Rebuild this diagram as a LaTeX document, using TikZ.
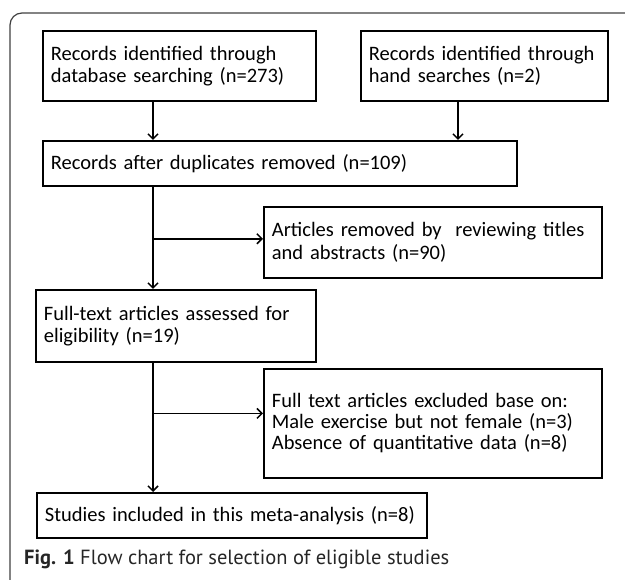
\documentclass[tikz,border=0pt]{standalone}
\usepackage{fontspec}
\setmainfont{Carlito}
\newfontfamily\capfont{PT Sans}
\usetikzlibrary{arrows.meta,calc}
\begin{document}
\begin{tikzpicture}[x=1pt,y=-1pt,
  box/.style={draw=black, line width=1.8pt, rectangle, anchor=north west,
    inner xsep=8pt, inner ysep=0pt, align=left,
    font=\fontsize{20.5}{22.5}\selectfont},
  arr/.style={line width=1.5pt, -{Straight Barb[length=5pt,width=10pt,line width=1.5pt]}},
  frame/.style={line width=1.2pt, draw=black!75, rounded corners=12pt}
]
\useasboundingbox (0,0) rectangle (625,580);
\draw[frame] (10,580) -- (10,13) -- (625,13);

\node[box, text width=257pt, minimum height=70pt] (b1) at (42,30)
  {Records identified through\\database searching (n=273)};
\node[box, text width=231pt, minimum height=70pt] (b2) at (360,30)
  {Records identified through\\hand searches (n=2)};
\node[box, text width=458pt, minimum height=45pt] (b3) at (42,140)
  {Records after duplicates removed (n=109)};
\node[box, text width=322pt, minimum height=71pt] (b4) at (263,206)
  {Articles removed by \ reviewing titles\\and abstracts (n=90)};
\node[box, text width=264pt, minimum height=72pt] (b5) at (35,289)
  {Full-text articles assessed for\\eligibility (n=19)};
\node[box, text width=322pt, minimum height=109pt, font=\fontsize{20.5}{21}\selectfont] (b6) at (263,368)
  {Full text articles excluded base on:\\Male exercise but not female (n=3)\\Absence of quantitative data (n=8)};
\node[box, text width=374pt, minimum height=45pt] (b7) at (36,492)
  {Studies included in this meta-analysis (n=8)};

\coordinate (v) at (153,0);
\coordinate (v2) at (458,0);
\coordinate (t4) at ($(b4.north west)!0.45!(b4.south west)$);
\coordinate (t6) at ($(b6.north west)!0.41!(b6.south west)$);

\draw[arr] (b1.south -| v) -- (b3.north -| v);
\draw[arr] (b2.south -| v2) -- (b3.north -| v2);
\draw[arr] (b3.south -| v) -- (b5.north -| v);
\draw[arr] (v |- t4) -- (t4);
\draw[arr] (b5.south -| v) -- (b7.north -| v);
\draw[arr] (v |- t6) -- (t6);

\node[anchor=west, inner sep=0pt, font=\capfont\fontsize{20.5}{24}\selectfont, text=black!85] (cap) at (24,559)
  {\textbf{Fig. 1} Flow chart for selection of eligible studies};
\end{tikzpicture}
\end{document}
